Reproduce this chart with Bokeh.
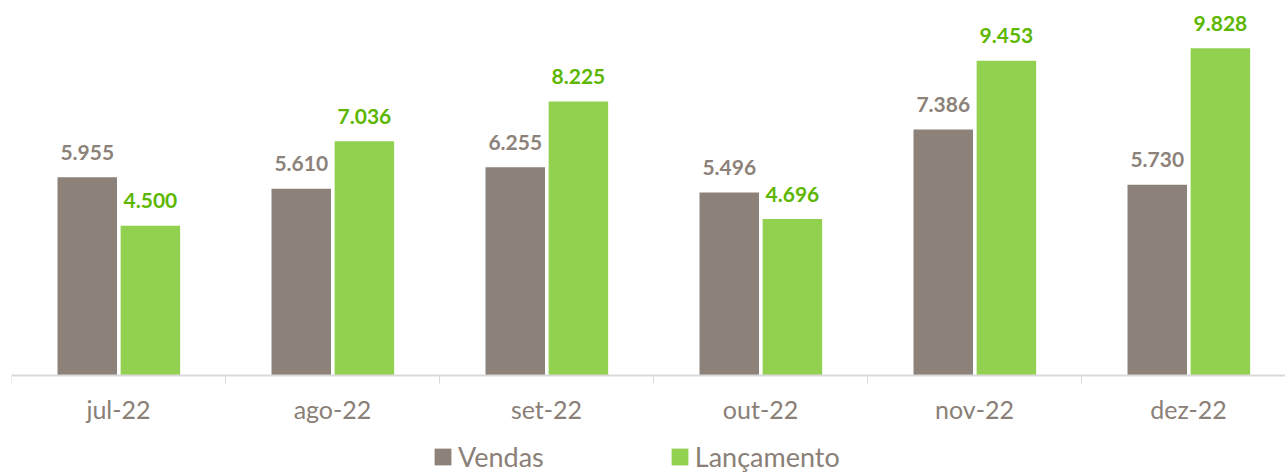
from bokeh.plotting import figure
from bokeh.models import ColumnDataSource, FixedTicker, Range1d, Legend, LegendItem
from bokeh.core.properties import value
from bokeh.embed import file_html
from bokeh.resources import INLINE

categories = ["jul-22", "ago-22", "set-22", "out-22", "nov-22", "dez-22"]
vendas = [5.955, 5.610, 6.255, 5.496, 7.386, 5.730]
lancamento = [4.500, 7.036, 8.225, 4.696, 9.453, 9.828]

GRAY = "#8C8279"
GREEN = "#92D050"
GREEN_TXT = "#5DB700"
TXT = "#8A8077"

def fmt(v):
    return f"{v:.3f}"

centers = [i + 0.5 for i in range(len(categories))]
src = ColumnDataSource(dict(
    xv=[c - 0.146 for c in centers],
    xl=[c + 0.149 for c in centers],
    v=vendas, l=lancamento,
    vt=[fmt(x) for x in vendas], lt=[fmt(x) for x in lancamento],
))

PX = 33.3  # pixels per unit
p = figure(width=1285, height=473, output_backend="svg", toolbar_location=None,
           x_range=Range1d(0, 1274 / 214), y_range=Range1d(-(473 - 375) / PX, (375 - 8) / PX),
           y_axis_location=None, min_border_left=11, min_border_right=0,
           min_border_top=8, min_border_bottom=0)
p.outline_line_color = None
p.xgrid.visible = False
p.ygrid.visible = False

rv = p.vbar(x="xv", top="v", width=0.278, source=src, fill_color=GRAY, line_color=None)
rl = p.vbar(x="xl", top="l", width=0.278, source=src, fill_color=GREEN, line_color=None)

p.text(x="xv", y="v", text="vt", source=src, text_align="center", text_baseline="alphabetic",
       y_offset=-25, text_font=value("Lato"), text_font_style="bold", text_font_size="21px",
       text_color=GRAY)
p.text(x="xl", y="l", text="lt", source=src, text_align="center", text_baseline="alphabetic",
       y_offset=-25, text_font=value("Lato"), text_font_style="bold", text_font_size="21px",
       text_color=GREEN_TXT)

ax = p.xaxis[0]
ax.fixed_location = 0
ax.ticker = FixedTicker(ticks=centers, minor_ticks=list(range(len(categories) + 1)))
ax.major_label_overrides = {c: lab for c, lab in zip(centers, categories)}
ax.major_tick_out = 0
ax.major_tick_in = 0
ax.minor_tick_out = 8
ax.minor_tick_in = 0
ax.minor_tick_line_color = "#D9D9D9"
ax.minor_tick_line_width = 1
ax.axis_line_color = "#D9D9D9"
ax.axis_line_width = 2
ax.major_label_text_font = "Lato"
ax.major_label_text_font_size = "25px"
ax.major_label_text_color = TXT
ax.major_label_standoff = 10

legend = Legend(items=[LegendItem(label="Vendas", renderers=[rv]),
                       LegendItem(label="Lançamento", renderers=[rl])],
                orientation="horizontal", location=(421, 0),
                glyph_width=21, glyph_height=21, label_standoff=5, spacing=125,
                label_text_font="Lato", label_text_font_size="27px", label_text_color=TXT,
                padding=0, margin=0, border_line_color=None, background_fill_alpha=0)
p.add_layout(legend, "center")

open("out.html", "w").write(file_html(p, INLINE))
